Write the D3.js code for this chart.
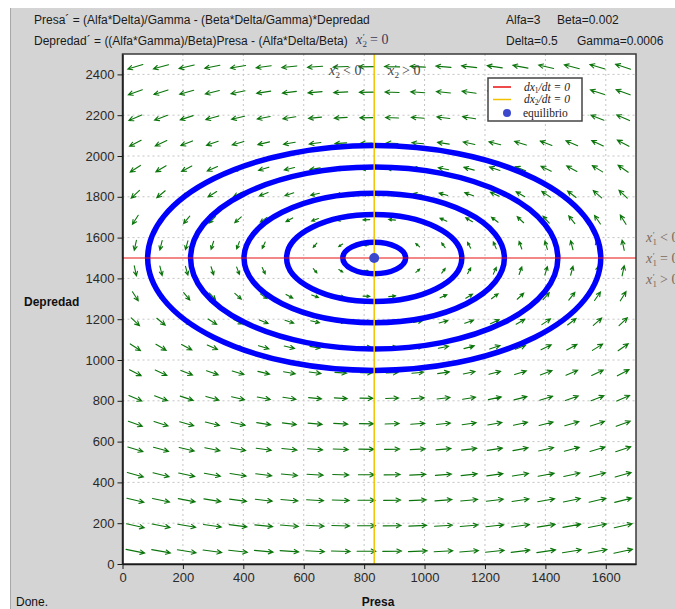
<!DOCTYPE html>
<html>
<head>
<meta charset="utf-8">
<script src="https://cdn.jsdelivr.net/npm/d3@7"></script>
<style>
  html, body { margin: 0; padding: 0; background: #ffffff; }
  svg { display: block; }
  .sans { font-family: "Liberation Sans", Arial, sans-serif; }
  .serif { font-family: "Liberation Serif", "DejaVu Serif", serif; }
</style>
</head>
<body>
<svg id="chart" width="675" height="609"></svg>
<script>
// Model parameters (Lotka-Volterra style predator / prey system)
const alfa = 3;
const beta = 0.002;
const delta = 0.5;
const gamma = 0.0006;

// Equilibrium point (Presa, Depredad)
const equilibrium = [833.3, 1500];

// Closed orbits around the equilibrium: half-widths in Presa and Depredad units
const orbitRx = [750, 608, 431, 290, 104];
const orbitRy = [551, 446, 317, 213, 77];

// Direction-field sampling grid
const gridPresa = [42.5, 127.5, 212.5, 297.5, 382.5, 467.5, 552.5, 637.5, 722.5, 807.5,
                   892.5, 977.5, 1062.5, 1147.5, 1232.5, 1317.5, 1402.5, 1487.5, 1572.5, 1657.5];
const gridDepredad = [62.5, 187.5, 312.5, 437.5, 562.5, 687.5, 812.5, 937.5, 1062.5, 1187.5,
                      1312.5, 1437.5, 1562.5, 1687.5, 1812.5, 1937.5, 2062.5, 2187.5, 2312.5, 2437.5];

// Axis ticks
const xTicks = [0, 200, 400, 600, 800, 1000, 1200, 1400, 1600];
const yTicks = [0, 200, 400, 600, 800, 1000, 1200, 1400, 1600, 1800, 2000, 2200, 2400];

// Header texts
const eqLines = [
  "Presa\u00B4 = (Alfa*Delta)/Gamma - (Beta*Delta/Gamma)*Depredad",
  "Depredad\u00B4 = ((Alfa*Gamma)/Beta)Presa - (Alfa*Delta/Beta)"
];
const paramLabels = [
  ["Alfa=3", "Beta=0.002"],
  ["Delta=0.5", "Gamma=0.0006"]
];

const svg = d3.select("#chart");
const W = 675, H = 609;
const plot = { left: 122.5, right: 636, top: 54, bottom: 564 };

const x = d3.scaleLinear().domain([0, 1700]).range([plot.left, plot.right]);
const y = d3.scaleLinear().domain([0, 2500]).range([plot.bottom, plot.top]);

// Window panel
svg.append("rect").attr("x", 10).attr("y", 8).attr("width", W - 10).attr("height", H - 8)
  .attr("fill", "#d4d4d4");
svg.append("line").attr("x1", 10.5).attr("x2", 10.5).attr("y1", 8).attr("y2", H)
  .attr("stroke", "#a8a8a8");

// Header equations and parameters
const header = svg.append("g").attr("class", "sans").attr("font-size", 12).attr("fill", "#1a1a1a");
eqLines.forEach((t, i) => {
  header.append("text").attr("x", 34).attr("y", 23.5 + i * 21.5).text(t);
});
paramLabels.forEach((row, i) => {
  header.append("text").attr("x", 506).attr("y", 23.5 + i * 21.5).text(row[0]);
  header.append("text").attr("x", i === 0 ? 557 : 577).attr("y", 23.5 + i * 21.5).text(row[1]);
});

// Plot background
svg.append("rect").attr("x", plot.left).attr("y", plot.top)
  .attr("width", plot.right - plot.left).attr("height", plot.bottom - plot.top)
  .attr("fill", "#ffffff");

// Dotted grid
const grid = svg.append("g").attr("stroke", "#c4c4c4").attr("stroke-dasharray", "2,3").attr("stroke-width", 1);
xTicks.filter(d => d > 0).forEach(d => {
  grid.append("line").attr("x1", x(d)).attr("x2", x(d)).attr("y1", plot.top).attr("y2", plot.bottom);
});
yTicks.filter(d => d > 0).forEach(d => {
  grid.append("line").attr("x1", plot.left).attr("x2", plot.right).attr("y1", y(d)).attr("y2", y(d));
});

// Direction field from the model equations
const dPresa = (p, q) => (alfa * delta) / gamma - (beta * delta / gamma) * q;
const dDepredad = (p, q) => ((alfa * gamma) / beta) * p - (alfa * delta / beta);
const field = [];
gridDepredad.forEach(q => gridPresa.forEach(p => {
  field.push({ p, q, u: dPresa(p, q), v: dDepredad(p, q) });
}));
const maxMag = d3.max(field, d => Math.hypot(d.u, d.v));
const kx = x(1) - x(0), ky = y(0) - y(1);

const arrows = svg.append("g").attr("stroke", "#0b750b").attr("stroke-width", 1.1)
  .attr("fill", "none").attr("stroke-linecap", "round");
field.forEach(d => {
  const su = d.u * kx, sv = -d.v * ky;           // screen direction
  const ang = Math.atan2(sv, su);
  const len = 19 * Math.sqrt(Math.hypot(d.u, d.v) / maxMag);
  const cx = x(d.p), cy = y(d.q);
  const x0 = cx - Math.cos(ang) * len / 2, y0 = cy - Math.sin(ang) * len / 2;
  const x1 = cx + Math.cos(ang) * len / 2, y1 = cy + Math.sin(ang) * len / 2;
  const hl = Math.min(5, len * 0.45), ha = 0.45;
  const path = d3.path();
  path.moveTo(x0, y0); path.lineTo(x1, y1);
  path.moveTo(x1 - hl * Math.cos(ang - ha), y1 - hl * Math.sin(ang - ha));
  path.lineTo(x1, y1);
  path.lineTo(x1 - hl * Math.cos(ang + ha), y1 - hl * Math.sin(ang + ha));
  arrows.append("path").attr("d", path.toString());
});

// Orbits
const orbits = svg.append("g").attr("fill", "none").attr("stroke", "#0000ff").attr("stroke-width", 5.5);
orbitRx.forEach((rx, i) => {
  orbits.append("ellipse")
    .attr("cx", x(equilibrium[0])).attr("cy", y(equilibrium[1]))
    .attr("rx", x(equilibrium[0] + rx) - x(equilibrium[0]))
    .attr("ry", y(equilibrium[1]) - y(equilibrium[1] + orbitRy[i]));
});

// Nullclines
svg.append("line").attr("x1", plot.left).attr("x2", plot.right)
  .attr("y1", y(equilibrium[1])).attr("y2", y(equilibrium[1]))
  .attr("stroke", "#e81010").attr("stroke-width", 1.2);
svg.append("line").attr("x1", x(equilibrium[0])).attr("x2", x(equilibrium[0]))
  .attr("y1", plot.top).attr("y2", plot.bottom)
  .attr("stroke", "#f2c200").attr("stroke-width", 1.5);

// Equilibrium point
svg.append("circle").attr("cx", x(equilibrium[0])).attr("cy", y(equilibrium[1])).attr("r", 5)
  .attr("fill", "#3b48cc");

// Plot frame
svg.append("rect").attr("x", plot.left).attr("y", plot.top)
  .attr("width", plot.right - plot.left).attr("height", plot.bottom - plot.top)
  .attr("fill", "none").attr("stroke", "#3a3a3a").attr("stroke-width", 1.5);

// Axes
const fmt = d3.format("d");
const xAxis = svg.append("g").attr("transform", `translate(0,${plot.bottom})`)
  .call(d3.axisBottom(x).tickValues(xTicks).tickFormat(fmt).tickSize(5).tickPadding(4).tickSizeOuter(0));
const yAxis = svg.append("g").attr("transform", `translate(${plot.left},0)`)
  .call(d3.axisLeft(y).tickValues(yTicks).tickFormat(fmt).tickSize(5).tickPadding(3).tickSizeOuter(0));
[xAxis, yAxis].forEach(a => {
  a.select(".domain").attr("stroke", "#1a1a1a").attr("stroke-width", 1.5);
  a.selectAll(".tick line").attr("stroke", "#1a1a1a");
  a.selectAll(".tick text").attr("fill", "#2a2a2a")
    .attr("font-family", "'Liberation Sans Narrow', 'Liberation Sans', Arial, sans-serif")
    .attr("font-size", 13);
});

// Axis titles and status
svg.append("text").attr("class", "sans").attr("x", 24).attr("y", 306)
  .attr("font-size", 12).attr("font-weight", "bold").attr("fill", "#111").text("Depredad");
svg.append("text").attr("class", "sans").attr("x", 378).attr("y", 606).attr("text-anchor", "middle")
  .attr("font-size", 12).attr("font-weight", "bold").attr("fill", "#111").text("Presa");
svg.append("text").attr("class", "sans").attr("x", 16).attr("y", 606)
  .attr("font-size", 12).attr("fill", "#111").text("Done.");

// Sign annotations for the derivatives: italic x, prime over subscript, then the relation
function derivLabel(g, px, py, idx, rel, fill) {
  const t = g.append("text").attr("class", "serif").attr("x", px).attr("y", py)
    .attr("font-size", 14).attr("fill", fill);
  t.append("tspan").attr("font-style", "italic").text("x");
  t.append("tspan").attr("dx", 0.5).attr("dy", -4).attr("font-size", 9).text("\u2032");
  t.append("tspan").attr("x", px + 6.5).attr("dy", 7).attr("font-size", 9).text(idx);
  t.append("tspan").attr("x", px + 14).attr("dy", -3).text(rel);
}
const ann = svg.append("g");
derivLabel(ann, 356, 44, "2", "= 0", "#3a3a5a");
derivLabel(ann, 329, 75, "2", "< 0", "#444444");
derivLabel(ann, 388, 75, "2", "> 0", "#444444");
derivLabel(ann, 646, 242, "1", "< 0", "#7b6a5d");
derivLabel(ann, 646, 263, "1", "= 0", "#7b6a5d");
derivLabel(ann, 646, 284, "1", "> 0", "#7b6a5d");

// Legend
const lg = svg.append("g");
lg.append("rect").attr("x", 488).attr("y", 78).attr("width", 94).attr("height", 43)
  .attr("fill", "#ffffff").attr("stroke", "#444").attr("stroke-width", 1.5);
const legendItems = [
  { key: "line", color: "#e81010", label: ["dx", "1", "/dt = 0"] },
  { key: "line", color: "#f2c200", label: ["dx", "2", "/dt = 0"] },
  { key: "dot", color: "#3b48cc", label: ["equilibrio"] }
];
legendItems.forEach((it, i) => {
  const cy = 87 + i * 12.5;
  if (it.key === "line") {
    lg.append("line").attr("x1", 493).attr("x2", 511).attr("y1", cy).attr("y2", cy)
      .attr("stroke", it.color).attr("stroke-width", 1.5);
    const t = lg.append("text").attr("class", "serif").attr("x", 524).attr("y", cy + 3.5)
      .attr("font-size", 11.5).attr("fill", "#222").attr("font-style", "italic");
    t.append("tspan").text(it.label[0]);
    t.append("tspan").attr("dy", 2).attr("font-size", 7.5).attr("font-style", "normal").text(it.label[1]);
    t.append("tspan").attr("dy", -2).text(it.label[2]);
  } else {
    lg.append("circle").attr("cx", 507).attr("cy", cy + 1).attr("r", 4).attr("fill", it.color);
    lg.append("text").attr("class", "serif").attr("x", 523).attr("y", cy + 4.5)
      .attr("font-size", 11.5).attr("fill", "#222").text(it.label[0]);
  }
});
</script>
</body>
</html>
